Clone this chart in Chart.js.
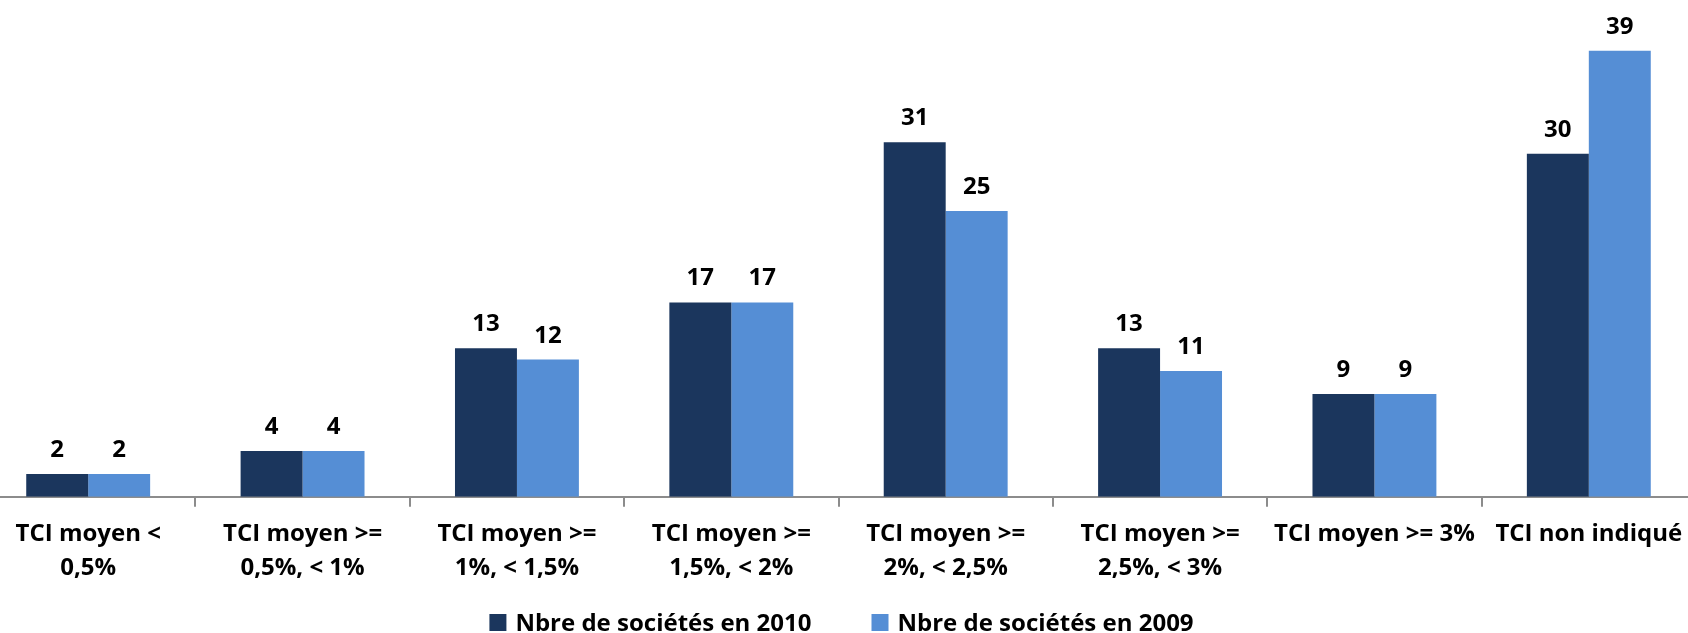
<!DOCTYPE html>
<html>
<head>
<meta charset="utf-8">
<script src="https://cdn.jsdelivr.net/npm/chart.js@4/dist/chart.umd.min.js"></script>
<style>
  html, body { margin: 0; padding: 0; background: #fff; overflow: hidden; }
  body { width: 1688px; height: 633px; position: relative; }
  #wrap { position: absolute; left: -19px; top: 0; width: 1715px; height: 660px; }
</style>
</head>
<body>
<div id="wrap"><canvas id="tci"></canvas></div>
<script>
const categories = [
    ['TCI moyen <', '0,5%'],
    ['TCI moyen >=', '0,5%, < 1%'],
    ['TCI moyen >=', '1%, < 1,5%'],
    ['TCI moyen >=', '1,5%, < 2%'],
    ['TCI moyen >=', '2%, < 2,5%'],
    ['TCI moyen >=', '2,5%, < 3%'],
    'TCI moyen >= 3%',
    'TCI non indiqué'
];
const societes2010 = [2, 4, 13, 17, 31, 13, 9, 30];
const societes2009 = [2, 4, 12, 17, 25, 11, 9, 39];

const FONT = "'Open Sans', sans-serif";

// numbers above each bar
const barValues = {
    id: 'barValues',
    afterDatasetsDraw(chart) {
        const ctx = chart.ctx;
        ctx.save();
        ctx.font = `bold 24px ${FONT}`;
        ctx.fillStyle = '#000';
        ctx.textAlign = 'center';
        ctx.textBaseline = 'alphabetic';
        chart.data.datasets.forEach((ds, i) => {
            chart.getDatasetMeta(i).data.forEach((bar, j) => {
                ctx.fillText(ds.data[j], bar.x, bar.y - 17);
            });
        });
        ctx.restore();
    }
};

// legend row under the axis labels, wider spacing than the built-in one
const bottomLegend = {
    id: 'bottomLegend',
    afterDraw(chart) {
        const ctx = chart.ctx;
        const box = 17, gap = 9, spacing = 60;
        const baseline = 631;
        ctx.save();
        ctx.font = `bold 24px ${FONT}`;
        ctx.textBaseline = 'alphabetic';
        ctx.textAlign = 'left';
        const items = chart.data.datasets.map(ds => ({
            text: ds.label,
            color: ds.backgroundColor,
            w: ctx.measureText(ds.label).width
        }));
        const total = items.reduce((s, it) => s + box + gap + it.w, 0) + spacing * (items.length - 1);
        let x = (chart.chartArea.left + chart.chartArea.right) / 2 + 3 - total / 2;
        items.forEach(it => {
            ctx.fillStyle = it.color;
            ctx.fillRect(x, baseline - 17, box, box);
            ctx.fillStyle = '#000';
            ctx.fillText(it.text, x + box + gap, baseline);
            x += box + gap + it.w + spacing;
        });
        ctx.restore();
    }
};

new Chart(document.getElementById('tci'), {
    type: 'bar',
    data: {
        labels: categories,
        datasets: [
            {
                label: 'Nbre de sociétés en 2010',
                data: societes2010,
                backgroundColor: '#1B365D',
                barPercentage: 1,
                categoryPercentage: 0.578
            },
            {
                label: 'Nbre de sociétés en 2009',
                data: societes2009,
                backgroundColor: '#558ED5',
                barPercentage: 1,
                categoryPercentage: 0.578
            }
        ]
    },
    options: {
        responsive: true,
        maintainAspectRatio: false,
        animation: false,
        layout: { padding: { top: 5, left: 0, right: 0, bottom: 65 } },
        plugins: {
            title: { display: false },
            tooltip: { enabled: false },
            legend: { display: false }
        },
        scales: {
            x: {
                border: { display: true, color: '#8c8c8c', width: 2 },
                grid: {
                    offset: true,
                    drawOnChartArea: false,
                    drawTicks: true,
                    tickLength: 10,
                    color: '#8c8c8c',
                    lineWidth: 2
                },
                ticks: {
                    color: '#000',
                    padding: 10,
                    maxRotation: 0,
                    autoSkip: false,
                    font: { family: FONT, size: 24, weight: 'bold', lineHeight: 1.42 }
                }
            },
            y: {
                display: false,
                min: 0,
                max: 43
            }
        }
    },
    plugins: [barValues, bottomLegend]
});
</script>
</body>
</html>
